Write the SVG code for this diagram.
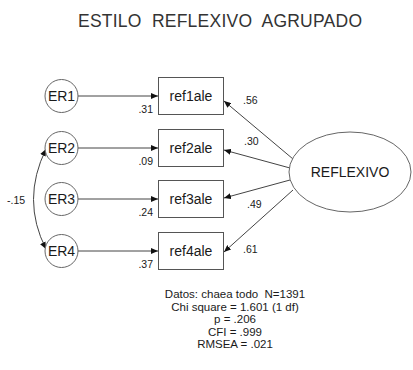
<svg xmlns="http://www.w3.org/2000/svg" width="413" height="370" viewBox="0 0 413 370">
<style>
text{font-family:"Liberation Sans",Arial,sans-serif;fill:#1a1a1a}
.title{font-size:17.5px;fill:#333;white-space:pre}
.lbl{font-size:14px}
.num{font-size:10.5px}
.stat{font-size:11.5px;white-space:pre}
.box{fill:#fff;stroke:#555;stroke-width:1}
.circ{fill:#fff;stroke:#666;stroke-width:1}
.conn line,.conn path{stroke:#444;stroke-width:1;fill:none}
</style>
<defs>
<marker id="ah" markerWidth="7" markerHeight="6" refX="7" refY="3" orient="auto-start-reverse" markerUnits="userSpaceOnUse">
<path d="M0,0 L7,3 L0,6 z" fill="#111"/>
</marker>
</defs>
<rect width="413" height="370" fill="#fff"/>
<text class="title" x="220" y="27" text-anchor="middle" textLength="284" lengthAdjust="spacing">ESTILO  REFLEXIVO  AGRUPADO</text>

<g class="conn" id="connectors">
<line x1="78" y1="96" x2="158" y2="96" marker-end="url(#ah)"/>
<line x1="78" y1="148" x2="158" y2="148" marker-end="url(#ah)"/>
<line x1="78" y1="199" x2="158" y2="199" marker-end="url(#ah)"/>
<line x1="78" y1="251" x2="158" y2="251" marker-end="url(#ah)"/>
<line x1="293" y1="159" x2="224" y2="101" marker-end="url(#ah)"/>
<line x1="290" y1="168" x2="224" y2="150" marker-end="url(#ah)"/>
<line x1="290" y1="180" x2="224" y2="198" marker-end="url(#ah)"/>
<line x1="293" y1="190" x2="224" y2="252" marker-end="url(#ah)"/>
<path d="M46,149 Q21,200 46,249" marker-start="url(#ah)" marker-end="url(#ah)"/>
<text class="num" x="153" y="113" text-anchor="end">.31</text>
<text class="num" x="153" y="165" text-anchor="end">.09</text>
<text class="num" x="153" y="216" text-anchor="end">.24</text>
<text class="num" x="153" y="268" text-anchor="end">.37</text>
<text class="num" x="243" y="104">.56</text>
<text class="num" x="244" y="145">.30</text>
<text class="num" x="247" y="208">.49</text>
<text class="num" x="243" y="253">.61</text>
<text class="num" x="7" y="204">-.15</text>
</g>

<g id="ER1"><circle class="circ" cx="61.5" cy="96" r="16.5"/><text class="lbl" x="61.5" y="101" text-anchor="middle">ER1</text></g>
<g id="ER2"><circle class="circ" cx="61.5" cy="148" r="16.5"/><text class="lbl" x="61.5" y="153" text-anchor="middle">ER2</text></g>
<g id="ER3"><circle class="circ" cx="61.5" cy="199" r="16.5"/><text class="lbl" x="61.5" y="204" text-anchor="middle">ER3</text></g>
<g id="ER4"><circle class="circ" cx="61.5" cy="251" r="16.5"/><text class="lbl" x="61.5" y="256" text-anchor="middle">ER4</text></g>

<g id="ref1ale"><rect class="box" x="158.5" y="77.5" width="65" height="37"/><text class="lbl" x="191" y="101" text-anchor="middle">ref1ale</text></g>
<g id="ref2ale"><rect class="box" x="158.5" y="129.5" width="65" height="37"/><text class="lbl" x="191" y="153" text-anchor="middle">ref2ale</text></g>
<g id="ref3ale"><rect class="box" x="158.5" y="180.5" width="65" height="37"/><text class="lbl" x="191" y="204" text-anchor="middle">ref3ale</text></g>
<g id="ref4ale"><rect class="box" x="158.5" y="232.5" width="65" height="37"/><text class="lbl" x="191" y="256" text-anchor="middle">ref4ale</text></g>

<g id="REFLEXIVO"><ellipse class="circ" cx="350" cy="172" rx="61" ry="40"/><text class="lbl" x="350" y="177" text-anchor="middle">REFLEXIVO</text></g>

<g id="stats">
<text class="stat" x="235" y="298" text-anchor="middle">Datos: chaea todo  N=1391</text>
<text class="stat" x="235" y="311" text-anchor="middle">Chi square = 1.601 (1 df)</text>
<text class="stat" x="235" y="323" text-anchor="middle">p = .206</text>
<text class="stat" x="235" y="336" text-anchor="middle">CFI = .999</text>
<text class="stat" x="235" y="348" text-anchor="middle">RMSEA = .021</text>
</g>
</svg>
